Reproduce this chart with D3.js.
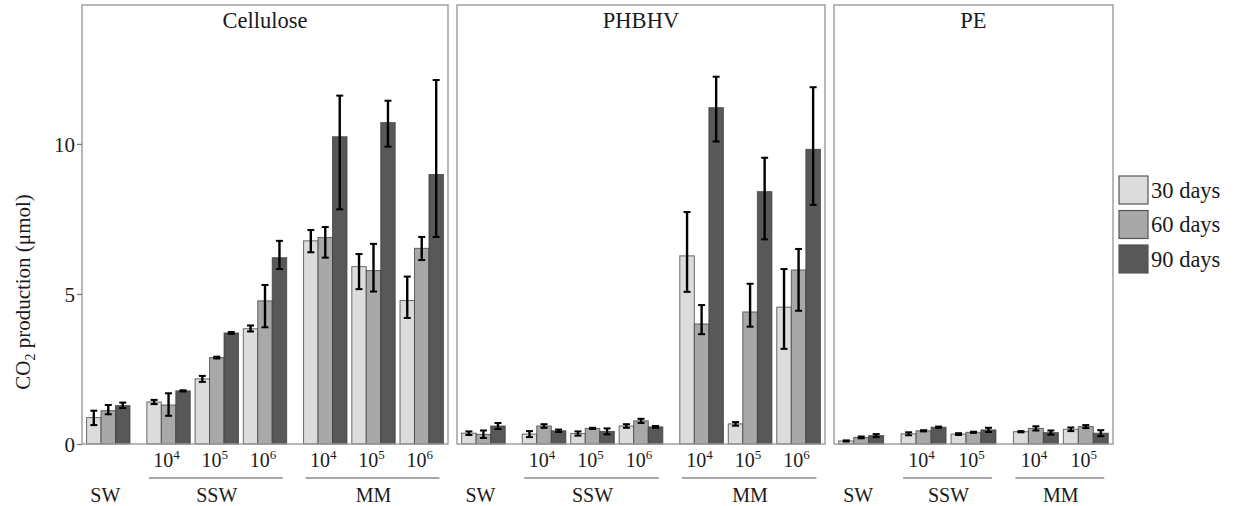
<!DOCTYPE html>
<html><head><meta charset="utf-8">
<script src="https://cdn.jsdelivr.net/npm/d3@7"></script>
<style>body{margin:0;background:#fff}</style>
</head><body><svg id="c" width="1234" height="506" font-family="Liberation Serif, Times New Roman, Times, serif"></svg>
<script>
const days = ["30 days", "60 days", "90 days"];
const dayColors = ["#dcdcdc", "#a8a8a8", "#585858"];
const panels = ["Cellulose", "PHBHV", "PE"];
const yTicks = [0, 5, 10];
// treatments: [group, exponent]
const treatFull = [["SW", ""], ["SSW", "4"], ["SSW", "5"], ["SSW", "6"], ["MM", "4"], ["MM", "5"], ["MM", "6"]];
const treatPE = [["SW", ""], ["SSW", "4"], ["SSW", "5"], ["MM", "4"], ["MM", "5"]];

// Cellulose: [30d, 60d, 90d] per treatment
const celMean = [[0.88,1.11,1.28],[1.40,1.30,1.77],[2.17,2.88,3.70],[3.84,4.77,6.21],[6.77,6.88,10.24],[5.91,5.78,10.71],[4.78,6.52,8.98]];
const celLo   = [[0.63,0.99,1.20],[1.33,0.94,1.75],[2.07,2.85,3.67],[3.75,3.89,5.83],[6.39,6.21,7.82],[5.16,5.08,9.91],[4.20,6.13,6.90]];
const celHi   = [[1.11,1.30,1.38],[1.47,1.69,1.79],[2.27,2.91,3.73],[3.95,5.30,6.77],[7.13,7.23,11.61],[6.33,6.67,11.44],[5.58,6.90,12.13]];
// PHBHV
const phbMean = [[0.36,0.32,0.60],[0.33,0.60,0.44],[0.35,0.52,0.42],[0.60,0.77,0.57],[6.27,4.00,11.21],[0.67,4.40,8.41],[4.56,5.80,9.82]];
const phbLo   = [[0.30,0.20,0.50],[0.23,0.54,0.40],[0.28,0.50,0.32],[0.54,0.70,0.54],[5.07,3.66,10.08],[0.61,3.91,6.82],[3.17,4.44,7.97]];
const phbHi   = [[0.42,0.45,0.70],[0.43,0.66,0.48],[0.42,0.54,0.52],[0.66,0.84,0.60],[7.73,4.63,12.24],[0.73,5.34,9.54],[5.83,6.50,11.89]];
// PE
const peMean = [[0.10,0.22,0.28],[0.34,0.44,0.56],[0.33,0.39,0.47],[0.41,0.52,0.38],[0.49,0.58,0.36]];
const peLo   = [[0.08,0.19,0.23],[0.29,0.42,0.54],[0.30,0.37,0.40],[0.39,0.45,0.31],[0.43,0.53,0.26]];
const peHi   = [[0.12,0.25,0.33],[0.39,0.46,0.58],[0.36,0.41,0.54],[0.43,0.59,0.45],[0.55,0.63,0.46]];

const panelData = [
  {name: panels[0], treats: treatFull, mean: celMean, lo: celLo, hi: celHi, x0: 82, x1: 448},
  {name: panels[1], treats: treatFull, mean: phbMean, lo: phbLo, hi: phbHi, x0: 457, x1: 825},
  {name: panels[2], treats: treatPE, mean: peMean, lo: peLo, hi: peHi, x0: 834, x1: 1113}
];

const FONT = "Liberation Serif, Times New Roman, Times, serif";
const TXT = "#1a1a1a";
const svg = d3.select("#c");
const yTop = 5, yBot = 444;
const y = d3.scaleLinear().domain([0, 14.63]).range([yBot, yTop]);
const groupGap = 0.25, pad = 0.545, barW = 0.3;

function txt(sel) { return sel.append("text").attr("font-family", FONT).attr("fill", TXT); }

panelData.forEach((p, pi) => {
  let pos = [], g = 0;
  p.treats.forEach((t, i) => {
    if (i > 0 && t[0] !== p.treats[i - 1][0]) g++;
    pos.push(i + g * groupGap);
  });
  const span = pos[pos.length - 1];
  const x = d3.scaleLinear().domain([-pad, span + pad]).range([p.x0, p.x1]);
  const G = svg.append("g");

  p.treats.forEach((t, i) => {
    days.forEach((d, k) => {
      const xl = x(pos[i] + (k - 1.5) * barW);
      const w = x(barW) - x(0);
      G.append("rect").attr("x", xl).attr("y", y(p.mean[i][k]))
        .attr("width", w).attr("height", y(0) - y(p.mean[i][k]))
        .attr("fill", dayColors[k]).attr("stroke", "#3c3c3c").attr("stroke-opacity", 0.75).attr("stroke-width", 1);
    });
  });
  p.treats.forEach((t, i) => {
    days.forEach((d, k) => {
      const xc = x(pos[i] + (k - 1) * barW);
      const capH = 3.5;
      G.append("line").attr("x1", xc).attr("x2", xc).attr("y1", y(p.lo[i][k])).attr("y2", y(p.hi[i][k]))
        .attr("stroke", "#000").attr("stroke-width", 2.4);
      [p.lo[i][k], p.hi[i][k]].forEach(v => {
        G.append("line").attr("x1", xc - capH).attr("x2", xc + capH).attr("y1", y(v)).attr("y2", y(v))
          .attr("stroke", "#000").attr("stroke-width", 2);
      });
    });
  });

  G.append("rect").attr("x", p.x0).attr("y", yTop).attr("width", p.x1 - p.x0).attr("height", yBot - yTop)
    .attr("fill", "none").attr("stroke", "#9a9a9a").attr("stroke-width", 1.4);
  txt(G).attr("x", (p.x0 + p.x1) / 2).attr("y", 28).attr("text-anchor", "middle")
    .attr("font-size", 22.5).text(p.name);

  p.treats.forEach((t, i) => {
    if (!t[1]) return;
    const tx = txt(G).attr("x", x(pos[i]) - 2).attr("y", 467).attr("text-anchor", "middle").attr("font-size", 20);
    tx.append("tspan").text("10");
    tx.append("tspan").attr("dy", -8).attr("font-size", 13).text(t[1]);
  });
  const groups = Array.from(new Set(p.treats.map(t => t[0])));
  groups.forEach(gn => {
    const idx = p.treats.map((t, i) => t[0] === gn ? i : -1).filter(i => i >= 0);
    const a = pos[idx[0]], b = pos[idx[idx.length - 1]];
    const cx = (x(a) + x(b)) / 2;
    if (idx.length > 1) {
      G.append("line").attr("x1", x(a - 1.5 * barW) + 2).attr("x2", x(b + 1.5 * barW) - 4)
        .attr("y1", 478).attr("y2", 478).attr("stroke", "#8a8a8a").attr("stroke-width", 1.6);
    }
    txt(G).attr("x", idx.length > 1 ? cx : cx - 3).attr("y", 502).attr("text-anchor", "middle")
      .attr("font-size", 20).text(gn);
  });

  if (pi === 0) {
    const ax = svg.append("g").attr("transform", `translate(${p.x0},0)`)
      .call(d3.axisLeft(y).tickValues(yTicks).tickSize(5).tickPadding(2));
    ax.attr("font-family", FONT);
    ax.select(".domain").remove();
    ax.selectAll("line").attr("stroke", "#7a7a7a").attr("stroke-width", 1.3);
    ax.selectAll("text").attr("font-size", 21).attr("font-family", FONT).attr("fill", TXT).attr("dy", "0.34em");
  }
});

const yl = txt(svg).attr("transform", "translate(30,292) rotate(-90)").attr("text-anchor", "middle").attr("font-size", 21);
yl.append("tspan").text("CO");
yl.append("tspan").attr("dy", 5).attr("font-size", 14).text("2");
yl.append("tspan").attr("dy", -5).text(" production (μmol)");

const lg = svg.append("g");
days.forEach((d, k) => {
  const yy = 176 + k * 34.5;
  lg.append("rect").attr("x", 1119).attr("y", yy).attr("width", 29).attr("height", 28)
    .attr("fill", dayColors[k]).attr("stroke", "#555").attr("stroke-width", 1.2);
  txt(lg).attr("x", 1151).attr("y", yy + 14).attr("dy", "0.35em").attr("font-size", 22.5).text(d);
});
</script></body></html>
